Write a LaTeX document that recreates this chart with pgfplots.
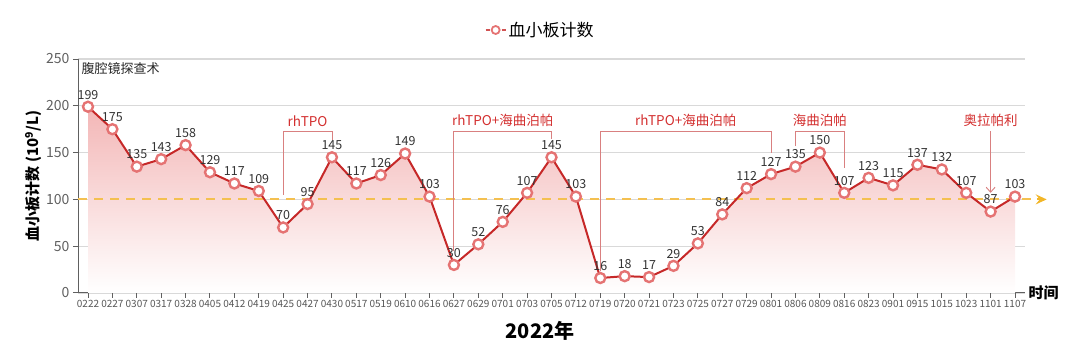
\documentclass[border=0pt]{standalone}
\usepackage{fontspec}
\setmainfont{Noto Sans CJK SC}
\usepackage{pgfplots}
\usepackage{pgfplotstable}
\pgfplotsset{compat=1.18}
\usetikzlibrary{arrows.meta}
\definecolor{lineRed}{HTML}{C62828}
\definecolor{markRed}{HTML}{E57373}
\definecolor{annRed}{HTML}{D32F2F}
\definecolor{brkRed}{HTML}{D98080}
\definecolor{fillTop}{HTML}{F3B6B6}
\definecolor{refY}{HTML}{F4C050}
\definecolor{arrY}{HTML}{F2B628}
\definecolor{gridG}{HTML}{D9D9D9}
\definecolor{axG}{HTML}{606060}
\pgfplotstableread{
x y
0 199
1 175
2 135
3 143
4 158
5 129
6 117
7 109
8 70
9 95
10 145
11 117
12 126
13 149
14 103
15 30
16 52
17 76
18 107
19 145
20 103
21 16
22 18
23 17
24 29
25 53
26 84
27 112
28 127
29 135
30 150
31 107
32 123
33 115
34 137
35 132
36 107
37 87
38 103
}\datatable
\begin{document}
\begin{tikzpicture}
\begin{axis}[
  at={(78pt,58pt)}, anchor=south west,
  width=947pt, height=234pt, scale only axis,
  xmin=-0.41, xmax=38.41, ymin=0, ymax=250,
  axis x line*=bottom, axis y line*=left,
  axis line style={axG, line width=1pt},
  ytick={0,50,...,250},
  ymajorgrids, grid style={gridG, line width=1.2pt},
  xtick={0,...,38},
  xticklabels={0222,0227,0307,0317,0328,0405,0412,0419,0425,0427,0430,0517,0519,0610,0616,0627,0629,0701,0703,0705,0712,0719,0720,0721,0723,0725,0727,0729,0801,0806,0809,0816,0823,0901,0915,1015,1023,1101,1107},
  tick align=outside, major tick length=5pt,
  tick style={axG, line width=1pt},
  /pgf/number format/assume math mode=true,
  yticklabel style={font=\fontsize{14}{14}\selectfont, text=axG},
  xticklabel style={font=\fontsize{10}{11}\selectfont, text=axG!90!black, inner sep=1pt, yshift=-1pt},
  ylabel={血小板计数 (10\textsuperscript{9}/L)},
  ylabel style={font=\bfseries\fontsize{15}{15}\selectfont, yshift=-2pt},
  xlabel={2022年},
  xlabel style={at={(axis description cs:0.488,-0.16)}, anchor=center, font=\bfseries\fontsize{20}{20}\selectfont},
  clip=false,
  legend style={draw=none, fill=none, at={(axis description cs:0.488,1.124)}, anchor=center, font=\fontsize{17}{17}\selectfont, legend cell align=left},
]
\addplot[draw=none, shade, top color=fillTop, bottom color=white, forget plot] table[x=x,y=y]{\datatable} \closedcycle;
\draw[refY, line width=2pt, dash pattern=on 9pt off 7pt] (axis cs:-0.41,100) -- (axis cs:38.9,100);
\draw[arrY, line width=2pt, -{Stealth[length=11pt,width=10pt,inset=4pt]}] (axis cs:38.9,100) -- (axis cs:39.3,100);
\addplot[lineRed, line width=2pt, mark=*, mark size=5pt,
  mark options={draw=markRed, fill=white, line width=2.4pt},
  nodes near coords, every node near coord/.append style={font=\fontsize{12.5}{13}\selectfont, text=black!80, anchor=south, yshift=3pt},
  legend image code/.code={
    \draw[lineRed!80, line width=2pt] (0pt,0pt) -- (4pt,0pt);
    \draw[markRed, line width=1.8pt, fill=white] (10pt,0pt) circle (4pt);
    \draw[lineRed!80, line width=2pt] (16pt,0pt) -- (20pt,0pt);}
] table[x=x,y=y]{\datatable};
\addlegendentry{血小板计数}
% annotations
\node[anchor=west, font=\fontsize{13}{13}\selectfont, text=black!85] at (axis cs:-0.41,240) {腹腔镜探查术};
\draw[brkRed, line width=0.9pt] (axis cs:8,105) |- (axis cs:10,173) -- (axis cs:10,163);
\node[anchor=south, font=\fontsize{13.5}{14}\selectfont, text=annRed] at (axis cs:9,174) {rhTPO};
\draw[brkRed, line width=0.9pt] (axis cs:15,45) |- (axis cs:19,173) -- (axis cs:19,165);
\node[anchor=south, font=\fontsize{13.5}{14}\selectfont, text=annRed] at (axis cs:17,174) {rhTPO+海曲泊帕};
\draw[brkRed, line width=0.9pt] (axis cs:21,23) |- (axis cs:28,173) -- (axis cs:28,150);
\node[anchor=south, font=\fontsize{13.5}{14}\selectfont, text=annRed] at (axis cs:24.5,174) {rhTPO+海曲泊帕};
\draw[brkRed, line width=0.9pt] (axis cs:29,157) |- (axis cs:31,173) -- (axis cs:31,134);
\node[anchor=south, font=\fontsize{13.5}{14}\selectfont, text=annRed] at (axis cs:30,174) {海曲泊帕};
\draw[brkRed, line width=0.9pt, -{Straight Barb[length=5pt,width=9pt]}] (axis cs:37,173) -- (axis cs:37,107);
\node[anchor=south, font=\fontsize{13.5}{14}\selectfont, text=annRed] at (axis cs:37,174) {奥拉帕利};
\node[anchor=west, font=\bfseries\fontsize{15}{15}\selectfont] at (axis cs:38.41,0) {时间};
\end{axis}
\pgfresetboundingbox
\path (0,0) rectangle (1080pt,351pt);
\end{tikzpicture}
\end{document}
